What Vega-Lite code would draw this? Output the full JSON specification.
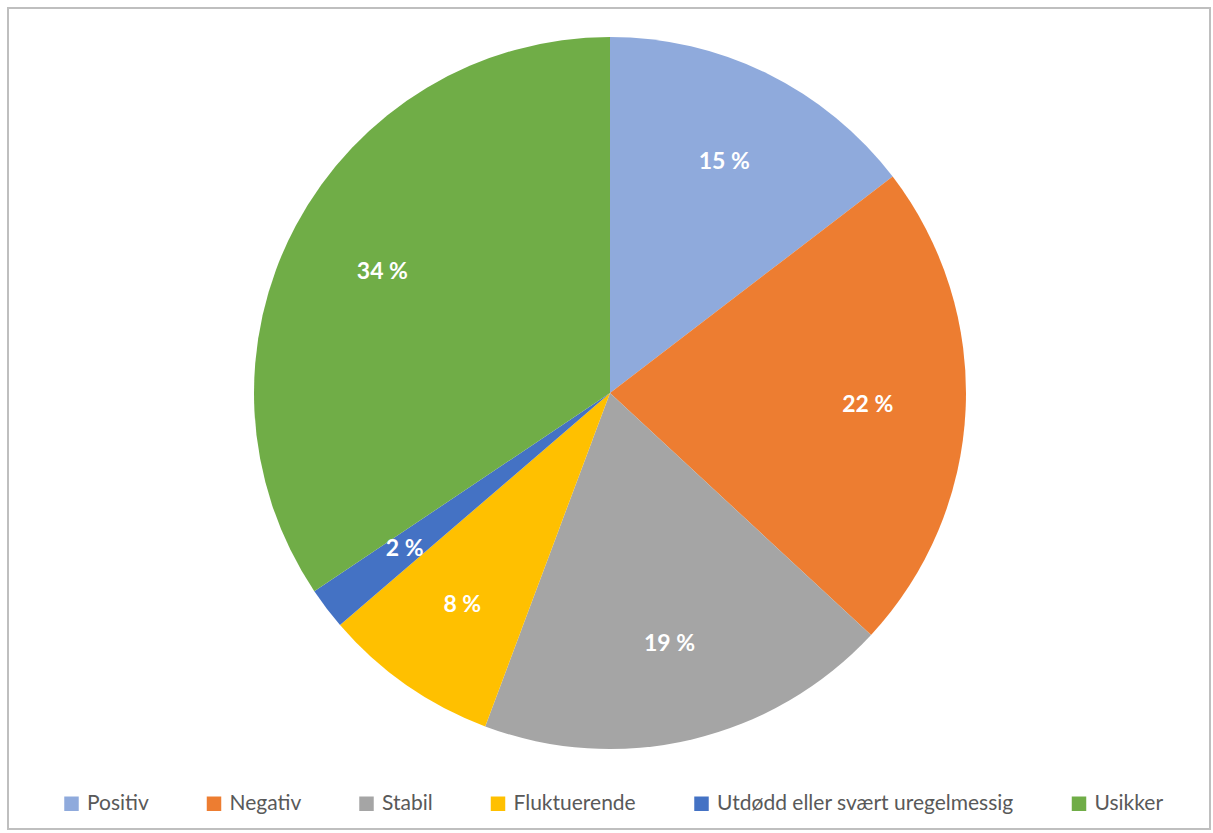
{
  "$schema": "https://vega.github.io/schema/vega-lite/v6.json",
  "width": 1202,
  "height": 821,
  "autosize": {"type": "none"},
  "padding": {"left": 8, "top": 8, "right": 3, "bottom": 4},
  "background": "white",
  "view": {"stroke": "#bfbfbf", "strokeWidth": 2},
  "config": {"view": {"stroke": "#bfbfbf", "strokeWidth": 2}, "font": "Lato"},
  "data": {
    "values": [
      {"rank": 1, "category": "Positiv", "value": 14.6, "label": "15 %"},
      {"rank": 2, "category": "Negativ", "value": 22.3, "label": "22 %"},
      {"rank": 3, "category": "Stabil", "value": 18.8, "label": "19 %"},
      {"rank": 4, "category": "Fluktuerende", "value": 8.0, "label": "8 %"},
      {"rank": 5, "category": "Utdødd eller svært uregelmessig", "value": 1.9, "label": "2 %"},
      {"rank": 6, "category": "Usikker", "value": 34.4, "label": "34 %"}
    ]
  },
  "encoding": {
    "theta": {"field": "value", "type": "quantitative", "stack": true},
    "order": {"field": "rank", "type": "quantitative"},
    "color": {
      "field": "category",
      "type": "nominal",
      "sort": ["Positiv", "Negativ", "Stabil", "Fluktuerende", "Utdødd eller svært uregelmessig", "Usikker"],
      "scale": {
        "domain": ["Positiv", "Negativ", "Stabil", "Fluktuerende", "Utdødd eller svært uregelmessig", "Usikker"],
        "range": ["#8faadc", "#ed7d31", "#a5a5a5", "#ffc000", "#4472c4", "#70ad47"]
      },
      "legend": {
        "title": null,
        "orient": "none",
        "legendX": 53,
        "legendY": 785,
        "direction": "horizontal",
        "symbolType": "square",
        "symbolSize": 210,
        "symbolStrokeWidth": 0,
        "labelFontSize": 21,
        "labelColor": "#595959",
        "labelFont": "Lato",
        "columnPadding": 54.5,
        "labelOffset": 5,
        "labelLimit": 400
      }
    }
  },
  "layer": [
    {
      "mark": {"type": "arc", "outerRadius": 356, "x": {"expr": "width/2+1"}, "y": {"expr": "height/2-25.5"}}
    },
    {
      "mark": {"type": "text", "radius": 258, "x": {"expr": "width/2+1"}, "y": {"expr": "height/2-25.5"}, "fontSize": 23, "fontWeight": "bold", "font": "Lato"},
      "encoding": {"text": {"field": "label", "type": "nominal"}, "color": {"value": "white"}}
    }
  ]
}
